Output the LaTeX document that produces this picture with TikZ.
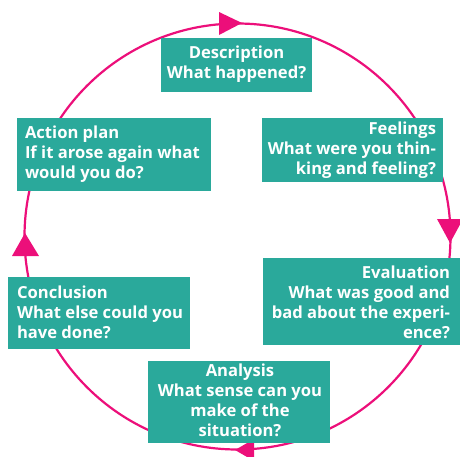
\documentclass[tikz,border=0pt]{standalone}
\usepackage{fontspec}
\setmainfont{Open Sans}
\definecolor{teal1}{HTML}{2AA99B}
\definecolor{pink1}{HTML}{EC0F7A}
\begin{document}
\begin{tikzpicture}[x=1pt,y=-1pt,
  box/.style={fill=teal1, draw=none, inner sep=0pt},
  txt/.style={text=white, inner sep=0pt, font=\fontsize{16.6}{20}\selectfont\bfseries},
  ring/.style={draw=pink1, line width=2.2pt},
  tip/.style={fill=pink1, draw=none}]
\useasboundingbox (0,0) rectangle (460,456);
\coordinate (c) at (237.5,236.5);
\draw[ring] (c) circle[radius=213];
% arrowheads
\fill[tip] (242,23) -- (219,12) -- (219,35) -- cycle;
\fill[tip] (450,243) -- (437,219) -- (463,219) -- cycle;
\fill[tip] (235,450) -- (254,439) -- (254,461) -- cycle;
\fill[tip] (25,233) -- (12,256) -- (39,256) -- cycle;
% boxes
\node[box, minimum width=151pt, minimum height=54pt] (desc) at (236.5,65) {};
\node[box, minimum width=181pt, minimum height=64pt] (feel) at (352.5,150) {};
\node[box, minimum width=197pt, minimum height=87pt] (eval) at (361.5,301.5) {};
\node[box, minimum width=182pt, minimum height=82pt] (anal) at (239,402) {};
\node[box, minimum width=182pt, minimum height=72pt] (concl) at (99,313) {};
\node[box, minimum width=194pt, minimum height=73pt] (act) at (114,154.5) {};
% texts
\node[txt, align=center, anchor=north] (tdesc) at ([yshift=-8pt]desc.north) {Description\\What happened?};
\node[txt, align=right, anchor=north east] (tfeel) at ([xshift=-7pt,yshift=-4pt]feel.north east) {Feelings\\What were you thin-\\king and feeling?};
\node[txt, align=right, anchor=north east] (teval) at ([xshift=-10pt,yshift=-8pt]eval.north east) {Evaluation\\What was good and\\bad about the experi-\\ence?};
\node[txt, align=center, anchor=north] (tanal) at ([xshift=1pt,yshift=-3pt]anal.north) {Analysis\\What sense can you\\make of the\\situation?};
\node[txt, align=left, anchor=north west] (tconcl) at ([xshift=9pt,yshift=-9pt]concl.north west) {Conclusion\\What else could you\\have done?};
\node[txt, align=left, anchor=north west] (tact) at ([xshift=8pt,yshift=-8pt]act.north west) {Action plan\\If it arose again what\\would you do?};
\end{tikzpicture}
\end{document}
